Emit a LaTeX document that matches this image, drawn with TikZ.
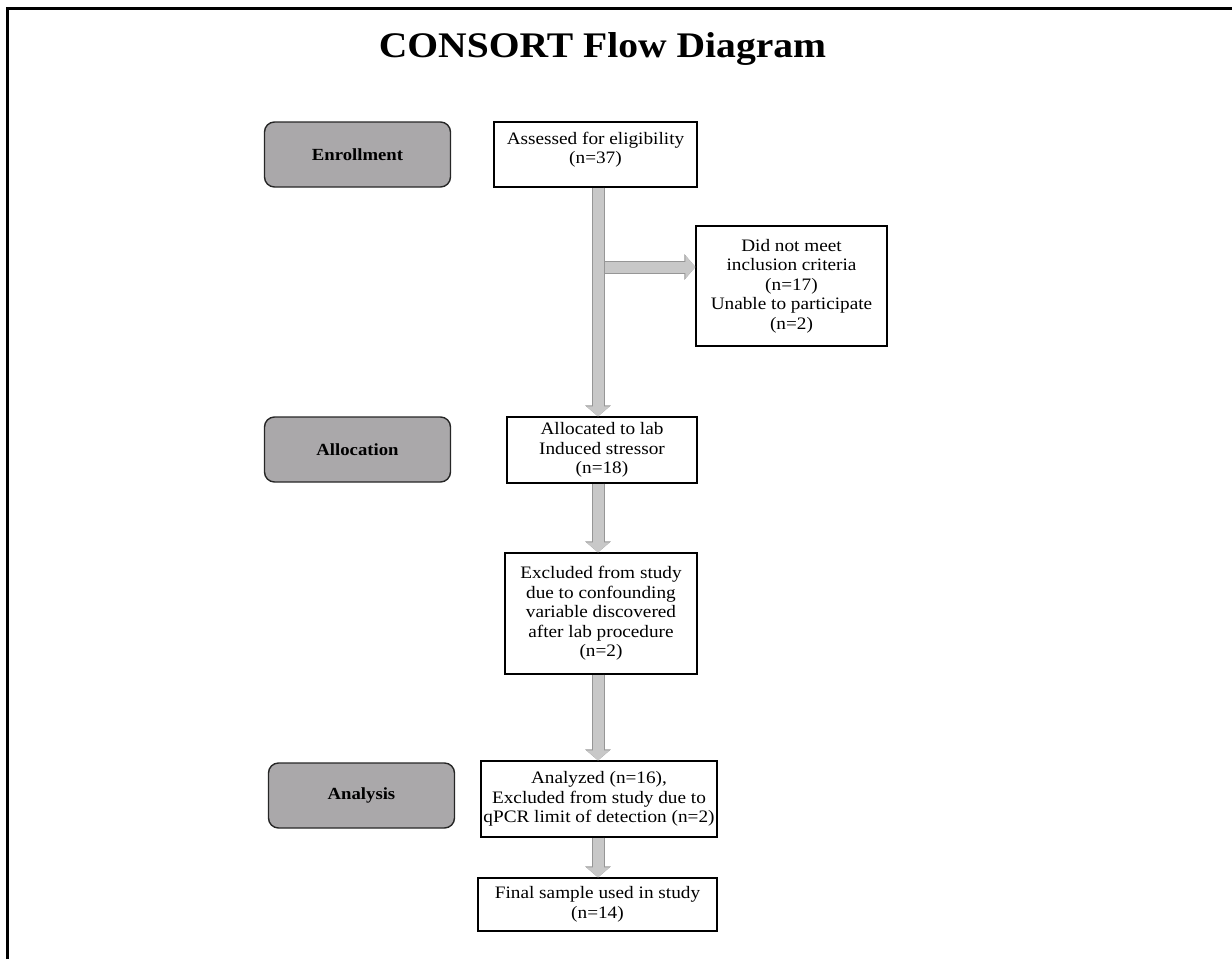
\documentclass[tikz,border=0pt]{standalone}
\usepackage{fontspec}
\setmainfont{Liberation Serif}[FakeStretch=1.1]
\usetikzlibrary{
    arrows.meta,
    positioning,
    calc
}
\definecolor{stagegray}{RGB}{170, 168, 170}
\definecolor{flowgray}{RGB}{200, 200, 200}
\definecolor{flowedge}{RGB}{150, 150, 150}

\begin{document}
\begin{tikzpicture}[
        x=1pt, y=-1pt,
        box/.style={rectangle, draw, line width=1.1pt, inner sep=0pt, align=center, font=\fontsize{17.5}{19.5}\selectfont},
        stage/.style={rectangle, draw=black!85, line width=1.4pt, rounded corners=10pt, fill=stagegray, inner sep=0pt, align=center, minimum width=186pt, minimum height=65pt, font=\fontsize{17}{19}\selectfont\bfseries},
        flow/.style={draw=flowgray, line width=11pt, -{Triangle[length=10pt,width=22pt]},
            preaction={draw=flowedge, line width=13pt, -{Triangle[length=11pt,width=25pt]}}}
    ]
        \useasboundingbox (0,0) rectangle (1232,959);

        % Frame
        \draw[line width=3pt] (7,959) -- (7,8) -- (1232,8);

        % Title
        \node[anchor=base, font=\fontsize{36}{40}\selectfont\bfseries] (title) at (602.5,57) {CONSORT Flow Diagram};

        % Stages
        \node[stage] (enroll) at (357.5,154.5) {Enrollment};
        \node[stage] (allocation) at (357.5,449.5) {Allocation};
        \node[stage] (analysis) at (361.5,795.5) {Analysis};

        % Main column
        \node[box, minimum width=203pt, minimum height=65pt] (assess) at (595.5,154.5) {Assessed for eligibility\\(n=37)\\[-6.5pt]};
        \node[box, minimum width=191pt, minimum height=120pt] (notmet) at (791.5,286) {Did not meet\\inclusion criteria\\(n=17)\\Unable to participate\\(n=2)};
        \node[box, minimum width=190pt, minimum height=66pt] (allocd) at (602,450) {Allocated to lab\\Induced stressor\\(n=18)};
        \node[box, minimum width=192pt, minimum height=121pt] (excluded) at (601,613.5) {Excluded from study\\due to confounding\\variable discovered\\after lab procedure\\(n=2)};
        \node[box, minimum width=236pt, minimum height=76pt] (analyzed) at (599,799) {Analyzed (n=16),\\Excluded from study due to\\qPCR limit of detection (n=2)};
        \node[box, minimum width=239pt, minimum height=53pt] (final) at (597.5,904.5) {Final sample used in study\\(n=14)};

        % Arrows
        \coordinate (spine) at (598,0);
        \coordinate (branch) at (598,267);
        \draw[flow] (branch) -- (branch -| notmet.west);
        \draw[flow] (assess.south -| spine) -- (allocd.north -| spine);
        \draw[flow] (allocd.south -| spine) -- (excluded.north -| spine);
        \draw[flow] (excluded.south -| spine) -- (analyzed.north -| spine);
        \draw[flow] (analyzed.south -| spine) -- (final.north -| spine);
    \end{tikzpicture}
\end{document}
